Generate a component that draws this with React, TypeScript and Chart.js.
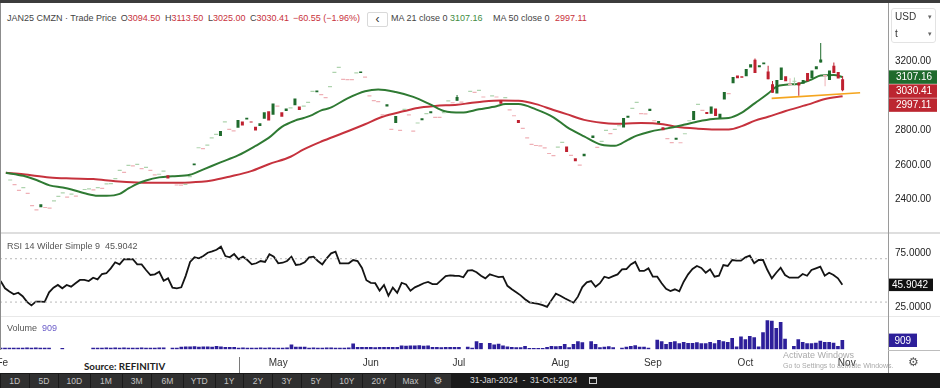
import React, { useEffect, useRef } from "react";
import { Chart, registerables } from "chart.js";

Chart.register(...registerables);

const FONT = "'Liberation Sans', Arial, Helvetica, sans-serif";
Chart.defaults.font.family = FONT;

// ---------------- data (trading-day index 0 = 31-Jan-2024) ----------------
const openPrice: (number | null)[] = [
  null, 2513, 2486, 2453, 2469, 2436, 2365, 2340, 2355, 2354,
  2351, 2392, 2418, 2438, 2414, 2431, 2420, null, 2458, 2462,
  2456, 2469, 2464, 2491, 2492, 2521, 2568, 2557, 2597, 2595,
  2603, 2579, 2586, 2568, 2542, 2546, 2564, 2540, null, 2484,
  2483, 2488, 2532, 2598, 2699, 2694, 2714, 2756, 2776, 2767,
  2849, 2805, 2796, 2814, 2851, 2862, 2850, 2820, 2825, 2867,
  2910, 2889, 2939, 2904, 2911, 2929, 2944, 2937, 2939, 2961,
  3025, 3019, 3006, 2988, 3052, 3134, 3163, 3094, 3093, 3092,
  3132, 3130, 3107, 2999, 2971, 2966, 2889, 2938, 2805, 2842,
  2800, 2921, 2889, 2795, 2842, 2858, 2896, 2898, 2875, 2874,
  2902, 2970, 2959, 2970, 2962, null, 3025, 3019, 3030, 2992,
  null, 2999, 2992, 2972, 2988, 2918, 2884, 2860, 2811, 2756,
  2719, 2712, 2710, 2698, 2666, 2654, 2703, 2730, 2707, 2655,
  2639, 2599, 2650, null, 2756, 2701, 2736, 2800, 2781, 2805,
  2826, 2816, 2872, 2926, 2961, 2896, 2895, 2912, 2855, 2841,
  2818, 2752, 2729, 2745, 2728, 2780, 2855, 2860, 2950, 2915,
  2906, 2896, 2926, 2871, 2977, 3012, 3072, 3116, 3112, 3112,
  3163, 3207, 3164, 3181, 3140, 3066, 3012, 3090, 3112, 3065,
  3083, 3076, 3068, 3130, 3101, 3152, 3191, 3116, 3090, 3173,
  3136, 3094.5,
];
const closePrice: (number | null)[] = [
  null, 2513, 2486, 2453, 2469, 2436, 2365, 2340, 2373, 2354,
  2351, 2392, 2418, 2438, 2414, 2431, 2420, null, 2458, 2462,
  2456, 2469, 2464, 2491, 2492, 2521, 2568, 2557, 2597, 2595,
  2603, 2579, 2586, 2568, 2542, 2546, 2564, 2522, null, 2484,
  2483, 2488, 2532, 2608, 2699, 2694, 2714, 2756, 2776, 2796,
  2849, 2805, 2796, 2860, 2827, 2872, 2845, 2798, 2840, 2904,
  2856, 2955, 2939, 2878, 2926, 2929, 2984, 2917, 2939, 2961,
  3025, 3030, 3006, 2988, 3052, 3134, 3163, 3094, 3093, 3092,
  3132, 3140, 3107, 2999, 2971, 2966, 2889, 2950, 2805, 2882,
  2800, 2921, 2889, 2795, 2842, 2870, 2896, 2910, 2875, 2874,
  2902, 2970, 2959, 2992, 2962, null, 3025, 3019, 3030, 2992,
  null, 2999, 2992, 2953, 2988, 2918, 2884, 2842, 2811, 2756,
  2719, 2712, 2710, 2698, 2666, 2654, 2703, 2730, 2674, 2655,
  2621, 2599, 2664, null, 2770, 2701, 2736, 2800, 2781, 2805,
  2826, 2871, 2884, 2926, 2961, 2896, 2895, 2924, 2855, 2853,
  2800, 2752, 2729, 2757, 2728, 2780, 2855, 2911, 2950, 2915,
  2894, 2937, 2882, 2895, 3021, 3012, 3108, 3101, 3104, 3154,
  3181, 3130, 3176, 3192, 3094, 3017, 3090, 3162, 3083, 3065,
  3083, 3058, 3090, 3083, 3145, 3170, 3209, 3116, 3145, 3130,
  3099, 3030.41,
];
// candles whose high/low reach beyond the body
const wickDay = [103, 171, 174, 175, 179, 180, 181, 186, 187, 189, 191];
const wickHigh = [3003, 3214, 3173, 3085, 3100, 3105, 3076, 3304, 3116, 3191, 3113.5];
const wickLow = [2970, 3130, 3094, 3017, 3065, 3058, 2999, 3191, 3054, 3130, 3025];

const ma21Day = [0, 4, 7, 10, 13, 15, 18, 21, 23, 26, 28, 30, 32, 35, 38, 42, 45, 49, 53, 57, 60, 63, 66, 68, 70, 72, 74, 78, 82, 85, 89, 93, 97, 100, 104, 108, 112, 114, 117, 121, 125, 128, 132, 136, 139, 142, 144, 147, 151, 155, 159, 162, 165, 168, 171, 174, 176, 178, 181, 184, 186, 189, 191];
const ma21Value = [2555, 2537, 2513, 2482, 2469, 2458, 2436, 2422, 2422, 2433, 2464, 2491, 2510, 2528, 2535, 2543, 2573, 2615, 2655, 2710, 2756, 2820, 2856, 2871, 2889, 2915, 2929, 2984, 3025, 3036, 3021, 2993, 2948, 2911, 2902, 2921, 2939, 2951, 2951, 2921, 2875, 2820, 2765, 2716, 2710, 2745, 2769, 2792, 2811, 2833, 2856, 2867, 2871, 2902, 2957, 3012, 3054, 3063, 3069, 3094, 3116, 3119, 3107.16];

const ma50Day = [0, 4, 10, 15, 20, 25, 30, 36, 42, 47, 51, 56, 60, 65, 68, 72, 77, 82, 86, 91, 94, 98, 103, 106, 109, 113, 117, 121, 125, 128, 132, 136, 139, 141, 145, 150, 153, 158, 162, 165, 168, 171, 174, 178, 183, 187, 191];
const ma50Value = [2555, 2546, 2528, 2522, 2518, 2506, 2499, 2497, 2499, 2510, 2532, 2564, 2604, 2647, 2690, 2735, 2784, 2835, 2878, 2911, 2929, 2940, 2948, 2957, 2966, 2972, 2970, 2951, 2917, 2893, 2860, 2843, 2838, 2838, 2842, 2835, 2820, 2809, 2805, 2805, 2824, 2856, 2878, 2911, 2948, 2981, 2997.11];

const supportDay = [174.8, 195];
const supportValue = [2984, 3017];

const rsiValue = [
  49.4, 42.7, 39.8, 37.2, 38.6, 35.4, 30.2, 27.0, 30.4, 30.4,
  30.2, 39.0, 43.3, 45.8, 42.7, 45.8, 44.2, 47.4, 50.4, 50.4,
  49.4, 52.5, 51.0, 55.9, 56.6, 61.1, 66.7, 64.8, 69.5, 69.5,
  69.5, 64.8, 64.8, 59.6, 55.0, 55.6, 58.0, 49.7, 51.9, 43.3,
  42.7, 43.6, 54.2, 67.1, 71.3, 70.4, 72.5, 75.5, 76.7, 78.3,
  81.1, 72.5, 71.3, 74.3, 69.5, 71.9, 68.8, 64.8, 65.8, 67.9,
  67.0, 74.1, 71.9, 65.8, 66.3, 67.9, 71.9, 64.2, 64.8, 66.7,
  71.3, 71.9, 67.9, 64.8, 70.4, 75.0, 76.5, 65.8, 65.8, 65.8,
  68.8, 67.9, 61.5, 50.2, 47.8, 47.4, 40.6, 45.8, 35.9, 43.3,
  38.6, 47.8, 46.2, 40.5, 43.6, 45.4, 47.4, 48.6, 46.6, 46.6,
  50.2, 53.9, 54.7, 54.3, 54.1, 52.9, 59.0, 59.5, 57.5, 54.3,
  51.9, 55.6, 54.3, 53.0, 53.4, 45.0, 41.8, 39.0, 36.2, 32.6,
  29.8, 29.0, 28.4, 27.2, 25.6, 31.8, 37.8, 35.8, 33.5, 31.4,
  29.4, 35.0, 43.8, 48.2, 49.4, 44.2, 47.4, 53.4, 52.1, 53.9,
  55.5, 60.1, 60.5, 64.7, 67.1, 58.7, 58.7, 61.1, 53.4, 53.4,
  47.4, 42.2, 40.2, 41.8, 39.9, 48.8, 55.6, 60.5, 63.3, 61.5,
  57.1, 60.3, 53.4, 54.3, 64.2, 63.3, 68.8, 68.2, 68.2, 71.3,
  72.8, 65.8, 68.8, 68.8, 59.6, 51.9, 57.1, 61.7, 55.0, 52.5,
  52.5, 52.5, 55.9, 54.3, 59.6, 61.1, 62.7, 54.3, 57.1, 55.0,
  51.9, 45.9042,
];
const rsiUpper = 70;
const rsiLower = 30;
const rsiTicks = [25, 75];

const volumeValue = [
  120, 130, 120, 130, 120, 130, 140, 130, 150, 120,
  130, 120, 0, 0, 110, 0, 0, 0, 0, 0,
  0, 130, 120, 130, 140, 130, 150, 130, 140, 130,
  120, 130, 140, 130, 120, 130, 140, 150, 0, 130,
  120, 230, 240, 260, 280, 230, 240, 250, 230, 300,
  240, 200, 200, 210, 130, 140, 130, 120, 130, 140,
  130, 150, 130, 120, 130, 140, 440, 230, 220, 230,
  130, 140, 130, 120, 150, 140, 130, 120, 130, 140,
  540, 200, 190, 210, 200, 180, 200, 190, 210, 200,
  190, 350, 330, 360, 340, 370, 320, 350, 200, 190,
  180, 210, 200, 190, 200, 0, 230, 130, 780, 600,
  0, 600, 460, 530, 350, 240, 200, 170, 170, 300,
  110, 110, 110, 110, 200, 300, 270, 300, 505, 170,
  505, 780, 670, 0, 780, 505, 170, 235, 270, 170,
  0, 135, 235, 300, 370, 235, 235, 135, 0, 940,
  780, 505, 710, 780, 570, 710, 610, 610, 670, 570,
  570, 710, 570, 910, 780, 710, 1110, 240, 1250, 980,
  1310, 1180, 240, 1690, 2900, 2860, 2120, 2730, 1040, 0,
  300, 980, 710, 570, 570, 640, 840, 710, 710, 640,
  300, 909,
];

const priceTicks = [2400, 2600, 2800, 3200];
const monthDay = [1, 22, 42, 63, 84, 104, 127, 148, 169, 192];
const monthLabel = ["Feb", "Mar", "Apr", "May", "Jun", "Jul", "Aug", "Sep", "Oct", "Nov"];

// ---------------- styling ----------------
const X_MIN = -0.1346;
const X_MAX = 201.36;
const UP = "#1f6b2d";
const DOWN = "#bf2130";
const UP_PALE = "#aed3ae";
const DOWN_PALE = "#efb0b6";
const MA21_COLOR = "#2f7a33";
const MA50_COLOR = "#c6323d";
const TAG_RED = "#bc2630";
const VOL_COLOR = "#2d1f9a";

function drawTag(ctx: CanvasRenderingContext2D, x: number, yc: number, w: number, h: number, bg: string, text: string, tx: number) {
  ctx.save();
  ctx.fillStyle = bg;
  ctx.fillRect(x, yc - h / 2, w, h);
  ctx.fillStyle = "#ffffff";
  ctx.font = `10px ${FONT}`;
  ctx.textBaseline = "middle";
  ctx.textAlign = "left";
  ctx.fillText(text, x + tx, yc + 0.5);
  ctx.restore();
}

const priceTagPlugin = {
  id: "priceTags",
  afterDraw(chart: any) {
    const y = chart.scales.y;
    const ctx = chart.ctx as CanvasRenderingContext2D;
    const lastClose = closePrice[closePrice.length - 1] as number;
    const tags = [
      { v: ma21Value[ma21Value.length - 1], bg: UP },
      { v: lastClose, bg: TAG_RED },
      { v: ma50Value[ma50Value.length - 1], bg: TAG_RED },
    ].map((t) => ({ ...t, p: y.getPixelForValue(t.v) }));
    tags.sort((a, b) => a.p - b.p);
    const h = 13.5;
    for (let k = 1; k < tags.length; k++) {
      if (tags[k].p - tags[k - 1].p < h + 0.5) tags[k].p = tags[k - 1].p + h + 0.5;
    }
    tags.forEach((t) => drawTag(ctx, 889, t.p, 48, h, t.bg, t.v.toFixed(2), 7));
  },
};

const rsiTagPlugin = {
  id: "rsiTag",
  afterDraw(chart: any) {
    const y = chart.scales.y;
    const v = rsiValue[rsiValue.length - 1];
    drawTag(chart.ctx, 889, y.getPixelForValue(v), 44, 12.5, "#111111", v.toFixed(4), 3);
  },
};

const volTagPlugin = {
  id: "volTag",
  afterDraw(chart: any) {
    const y = chart.scales.y;
    const v = volumeValue[volumeValue.length - 1];
    drawTag(chart.ctx, 888.5, y.getPixelForValue(v), 28.5, 13.4, VOL_COLOR, String(v), 6);
  },
};

const baseOptions = {
  animation: false as const,
  responsive: false,
  maintainAspectRatio: false,
  events: [] as any[],
  plugins: { legend: { display: false }, tooltip: { enabled: false }, title: { display: false } },
};

const T = (left: number, top: number, text: string, style: React.CSSProperties = {}) => (
  <div style={{ position: "absolute", left, top, whiteSpace: "nowrap", ...style }}>{text}</div>
);

export default function App() {
  const priceRef = useRef<HTMLCanvasElement>(null);
  const rsiRef = useRef<HTMLCanvasElement>(null);
  const volRef = useRef<HTMLCanvasElement>(null);

  useEffect(() => {
    // ---- candles ----
    const bodies: any[] = [];
    const bodyColors: string[] = [];
    const dashes: any[] = [];
    const dashColors: string[] = [];
    const dayColor: Record<number, string> = {};
    let prev: number | null = null;
    for (let i = 0; i < closePrice.length; i++) {
      const o = openPrice[i];
      const c = closePrice[i];
      if (o == null || c == null) continue;
      if (o === c) {
        const col = prev != null && c < prev ? DOWN_PALE : UP_PALE;
        dashes.push({ x: i, y: c });
        dashColors.push(col);
        dayColor[i] = col;
      } else {
        const col = c >= o ? UP : DOWN;
        bodies.push({ x: i, y: [o, c] });
        bodyColors.push(col);
        dayColor[i] = col;
      }
      prev = c;
    }
    const wicks = wickDay.map((d, k) => ({ x: d, y: [wickLow[k], wickHigh[k]] }));
    const wickColors = wickDay.map((d) => dayColor[d] || UP);

    const xScale = { type: "linear" as const, min: X_MIN, max: X_MAX, display: false, offset: false };

    const price = new Chart(priceRef.current!, {
      type: "bar",
      data: {
        datasets: [
          { type: "line", data: ma50Day.map((d, k) => ({ x: d, y: ma50Value[k] })), borderColor: MA50_COLOR, borderWidth: 2, pointRadius: 0, cubicInterpolationMode: "monotone", order: 10 } as any,
          { type: "line", data: ma21Day.map((d, k) => ({ x: d, y: ma21Value[k] })), borderColor: MA21_COLOR, borderWidth: 2, pointRadius: 0, cubicInterpolationMode: "monotone", order: 9 } as any,
          { type: "line", data: supportDay.map((d, k) => ({ x: d, y: supportValue[k] })), borderColor: "#f5a51e", borderWidth: 1.6, pointRadius: 0, order: 8 } as any,
          { type: "bar", data: wicks, backgroundColor: wickColors, grouped: false, maxBarThickness: 1, order: 3 } as any,
          { type: "bar", data: bodies, backgroundColor: bodyColors, grouped: false, maxBarThickness: 3, order: 2 } as any,
          { type: "line", data: dashes, showLine: false, pointStyle: "line", pointRadius: 2, pointBorderColor: dashColors, pointBorderWidth: 1.2, order: 1 } as any,
        ],
      },
      options: {
        ...baseOptions,
        layout: { padding: 0 },
        scales: {
          x: xScale,
          y: {
            type: "linear",
            position: "right",
            min: 2242.7,
            max: 3360.5,
            grid: { display: false, drawTicks: false },
            border: { display: false },
            afterBuildTicks: (s: any) => { s.ticks = priceTicks.map((v) => ({ value: v })); },
            afterFit: (s: any) => { s.width = 52; s.paddingTop = 0; s.paddingBottom = 0; },
            ticks: { padding: 7, color: "#222", font: { size: 10, family: FONT }, callback: (v: any) => Number(v).toFixed(2) },
          },
        },
      } as any,
      plugins: [priceTagPlugin],
    });

    const rsi = new Chart(rsiRef.current!, {
      type: "line",
      data: {
        datasets: [
          { data: [{ x: X_MIN, y: rsiUpper }, { x: X_MAX, y: rsiUpper }], borderColor: "#b8b8b8", borderWidth: 1, borderDash: [2, 3], pointRadius: 0 },
          { data: [{ x: X_MIN, y: rsiLower }, { x: X_MAX, y: rsiLower }], borderColor: "#b8b8b8", borderWidth: 1, borderDash: [2, 3], pointRadius: 0 },
          { data: rsiValue.map((v, i) => ({ x: i, y: v })), borderColor: "#141414", borderWidth: 1.8, pointRadius: 0, tension: 0 },
        ],
      },
      options: {
        ...baseOptions,
        layout: { padding: 0 },
        scales: {
          x: xScale,
          y: {
            type: "linear",
            position: "right",
            min: 17.16,
            max: 93.73,
            grid: { display: false, drawTicks: false },
            border: { display: false },
            afterBuildTicks: (s: any) => { s.ticks = rsiTicks.map((v) => ({ value: v })); },
            afterFit: (s: any) => { s.width = 52; s.paddingTop = 0; s.paddingBottom = 0; },
            ticks: { padding: 7, color: "#222", font: { size: 10, family: FONT }, callback: (v: any) => Number(v).toFixed(4) },
          },
        },
      } as any,
      plugins: [rsiTagPlugin],
    });

    const vol = new Chart(volRef.current!, {
      type: "bar",
      data: {
        datasets: [
          { data: volumeValue.map((v, i) => ({ x: i, y: v })).filter((d) => d.y > 0), backgroundColor: VOL_COLOR, barThickness: 3 },
        ],
      },
      options: {
        ...baseOptions,
        layout: { padding: { left: 0, right: 52, top: 0, bottom: 0 } },
        scales: {
          x: {
            type: "linear",
            min: X_MIN,
            max: X_MAX,
            offset: false,
            grid: { display: false, drawTicks: false },
            border: { display: false },
            afterBuildTicks: (s: any) => { s.ticks = monthDay.map((v) => ({ value: v })); },
            afterFit: (s: any) => { s.height = 23.7; s.paddingLeft = 0; s.paddingRight = 0; },
            ticks: { autoSkip: false, maxRotation: 0, padding: 8, color: "#333", font: { size: 10, family: FONT }, callback: (_v: any, i: number) => monthLabel[i] },
          },
          y: { type: "linear", display: false, min: 0, max: 3360 },
        },
      } as any,
      plugins: [volTagPlugin],
    });

    return () => {
      price.destroy();
      rsi.destroy();
      vol.destroy();
    };
  }, []);

  const hdr: React.CSSProperties = { fontSize: 9, lineHeight: "11px", color: "#444" };
  const red = "#c8323c";
  const green = "#3f8c3f";
  const rangeButtons = ["1D", "5D", "10D", "1M", "3M", "6M", "YTD", "1Y", "2Y", "3Y", "5Y", "10Y", "20Y", "Max"];
  const rangeEdges = [0, 29.5, 58.5, 90, 122, 151.5, 183.5, 215, 243.5, 272.5, 301, 331, 362.5, 395.5, 425.5, 451];

  return (
    <div style={{ position: "fixed", left: 0, top: 0, width: 940, height: 388, background: "#fff", overflow: "hidden", fontFamily: FONT }}>
      <div style={{ position: "absolute", left: 0, top: 0, width: 940, height: 3, background: "#3c3c3c" }} />

      {/* header */}
      {T(7, 13, "JAN25 CMZN · Trade Price", hdr)}
      <div style={{ position: "absolute", left: 120.7, top: 13, ...hdr }}>O<span style={{ color: red }}>3094.50</span></div>
      <div style={{ position: "absolute", left: 165, top: 13, ...hdr }}>H<span style={{ color: red }}>3113.50</span></div>
      <div style={{ position: "absolute", left: 208, top: 13, ...hdr }}>L<span style={{ color: red }}>3025.00</span></div>
      <div style={{ position: "absolute", left: 250, top: 13, ...hdr }}>C<span style={{ color: red }}>3030.41</span></div>
      {T(293, 13, "−60.55 (−1.96%)", { ...hdr, color: red })}
      <div style={{ position: "absolute", left: 367, top: 11.5, width: 19, height: 13, border: "1px solid #d9d9d9", borderRadius: 2, fontSize: 12, lineHeight: "12px", textAlign: "center", color: "#333" }}>‹</div>
      {T(391, 13, "MA 21 close 0", hdr)}
      {T(450, 13, "3107.16", { ...hdr, color: green })}
      {T(493, 13, "MA 50 close 0", hdr)}
      {T(555, 13, "2997.11", { ...hdr, color: red })}

      <canvas ref={priceRef} width={940} height={204} style={{ position: "absolute", left: 0, top: 28, width: 940, height: 204 }} />
      <canvas ref={rsiRef} width={940} height={83} style={{ position: "absolute", left: 0, top: 233, width: 940, height: 83 }} />
      <canvas ref={volRef} width={940} height={57} style={{ position: "absolute", left: 0, top: 316, width: 940, height: 57 }} />

      {/* separators */}
      <div style={{ position: "absolute", left: 0, top: 232, width: 940, height: 2, background: "#dedede" }} />
      <div style={{ position: "absolute", left: 0, top: 316, width: 940, height: 1, background: "#e8e8e8" }} />
      <div style={{ position: "absolute", left: 0, top: 3, width: 1, height: 347, background: "#8c8c8c" }} />
      <div style={{ position: "absolute", left: 888, top: 3, width: 1, height: 370, background: "#9a9a9a" }} />
      <div style={{ position: "absolute", left: 888, top: 350, width: 52, height: 1, background: "#bdbdbd" }} />

      {/* currency / unit selector */}
      <div style={{ position: "absolute", left: 891, top: 8, width: 45, height: 35, border: "1px solid #e3e3e3", borderRadius: 3, boxSizing: "border-box" }} />
      {T(895, 11, "USD", { fontSize: 10, lineHeight: "11px", color: "#333" })}
      {T(928, 11, "▾", { fontSize: 7, lineHeight: "11px", color: "#666" })}
      {T(895, 28, "t", { fontSize: 10, lineHeight: "11px", color: "#333" })}
      {T(928, 28, "▾", { fontSize: 7, lineHeight: "11px", color: "#666" })}

      {/* pane labels */}
      {T(7, 241, "RSI 14 Wilder Simple 9  45.9042", { fontSize: 9, lineHeight: "10px", color: "#555", whiteSpace: "pre" })}
      <div style={{ position: "absolute", left: 7, top: 323, fontSize: 9, lineHeight: "10px", color: "#555", whiteSpace: "pre" }}>Volume  <span style={{ color: "#6a5cc8" }}>909</span></div>

      {/* source overlay */}
      <div style={{ position: "absolute", left: 8, top: 351, width: 231, height: 22, background: "#fff" }} />
      <div style={{ position: "absolute", left: 239, top: 357, width: 1, height: 16, background: "#7a7a7a" }} />
      {T(84, 360, "Source: REFINITIV", { fontSize: 9.8, lineHeight: "12px", fontWeight: 700, color: "#222", fontFamily: "Lato, 'Liberation Sans', sans-serif" })}

      {/* watermark */}
      {T(783, 350, "Activate Windows", { fontSize: 9, lineHeight: "10px", color: "rgba(140,140,140,0.75)" })}
      {T(783, 362, "Go to Settings to activate Windows.", { fontSize: 7, lineHeight: "8px", color: "rgba(140,140,140,0.75)" })}
      {T(908, 355, "⚙", { fontSize: 12, lineHeight: "14px", color: "#555", fontFamily: "'DejaVu Sans'" })}

      {/* bottom toolbar */}
      <div style={{ position: "absolute", left: 0, top: 373, width: 940, height: 15, background: "#1a1a1a" }} />
      {rangeButtons.map((b, k) => (
        <div key={b} style={{ position: "absolute", left: rangeEdges[k] + 0.5, top: 374, width: rangeEdges[k + 1] - rangeEdges[k] - 1, height: 14, background: "#303030", color: "#c4c4c4", fontSize: 8.5, lineHeight: "14px", textAlign: "center" }}>{b}</div>
      ))}
      <div style={{ position: "absolute", left: rangeEdges[14] + 0.5, top: 374, width: rangeEdges[15] - rangeEdges[14] - 1, height: 14, background: "#303030", color: "#c4c4c4", fontSize: 10, lineHeight: "14px", textAlign: "center", fontFamily: "'DejaVu Sans'" }}>⚙</div>
      {T(470, 373, "31-Jan-2024  -  31-Oct-2024", { fontSize: 8.5, lineHeight: "15px", color: "#dcdcdc", whiteSpace: "pre" })}
      <div style={{ position: "absolute", left: 589, top: 377, width: 8, height: 7, border: "1px solid #cfcfcf", borderTopWidth: 2, boxSizing: "border-box" }} />
    </div>
  );
}
